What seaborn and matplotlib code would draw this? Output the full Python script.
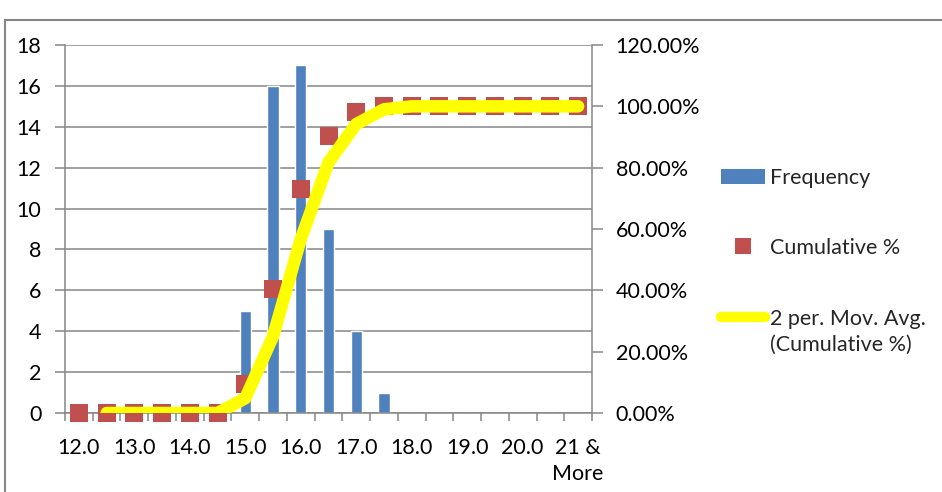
import numpy as np
import pandas as pd
import matplotlib
matplotlib.use("Agg")
import matplotlib.pyplot as plt
import seaborn as sns
from matplotlib.patches import Rectangle, Patch
from matplotlib.lines import Line2D
from matplotlib.ticker import FixedLocator, FuncFormatter

# Histogram bins and counts
bins = ["12.0", "12.5", "13.0", "13.5", "14.0", "14.5", "15.0", "15.5", "16.0",
        "16.5", "17.0", "17.5", "18.0", "18.5", "19.0", "19.5", "20.0", "20.5",
        "21 & More"]
frequency = [0, 0, 0, 0, 0, 0, 5, 16, 17, 9, 4, 1, 0, 0, 0, 0, 0, 0, 0]
tick_labels = ["12.0", "", "13.0", "", "14.0", "", "15.0", "", "16.0", "",
               "17.0", "", "18.0", "", "19.0", "", "20.0", "", "21 &\nMore"]

freq = np.array(frequency, dtype=float)
cumulative = np.cumsum(freq) / freq.sum()
# two-period moving average of the cumulative share (starts at the 2nd bin)
mov_avg = (cumulative[1:] + cumulative[:-1]) / 2

BLUE = "#4F81BD"
RED = "#C0504D"
YELLOW = "#FFFF00"
GRID = "#868686"

sns.set_theme(style="white")
plt.rcParams["font.family"] = ["Lato", "DejaVu Sans"]
FS = 15.5

W, H = 942, 492
fig = plt.figure(figsize=(W / 100, H / 100), dpi=100)
ax = fig.add_axes([65 / W, 1 - 413 / H, (592 - 65) / W, (413 - 45) / H])

df = pd.DataFrame({"bin": bins, "freq": frequency})
sns.barplot(data=df, x="bin", y="freq", ax=ax, color=BLUE, saturation=1,
            width=0.4, order=bins, zorder=2)

n = len(bins)
pos = np.arange(n)
ax.set_xlim(-0.5, n - 0.5)
ax.set_ylim(0, 18)
ax.set_yticks(np.arange(0, 19, 2))
ax.yaxis.grid(True, color=GRID, linewidth=1.1)
ax.set_axisbelow(True)
ax.set_xlabel("")
ax.set_ylabel("")

# category boundaries carry the tick marks, centres carry the labels
ax.xaxis.set_major_locator(FixedLocator(np.arange(-0.5, n, 1.0)))
ax.xaxis.set_major_formatter(FuncFormatter(lambda v, p: ""))
ax.xaxis.set_minor_locator(FixedLocator(pos))
ax.set_xticklabels(tick_labels, minor=True, linespacing=1.35)
ax.tick_params(axis="x", which="major", length=6, width=1.1, color=GRID,
               direction="out", bottom=True)
ax.tick_params(axis="x", which="minor", length=0, pad=18, labelsize=FS,
               labelcolor="black", bottom=True)
ax.tick_params(axis="y", length=7, width=1.1, color=GRID, direction="out",
               pad=10, labelsize=FS, labelcolor="black", left=True)

for side in ["top", "right"]:
    ax.spines[side].set_visible(False)
for side in ["left", "bottom"]:
    ax.spines[side].set_color(GRID)
    ax.spines[side].set_linewidth(1.1)

ax2 = ax.twinx()
ax2.set_ylim(0, 1.2)
ax2.set_yticks(np.arange(0, 1.21, 0.2))
ax2.yaxis.set_major_formatter(FuncFormatter(lambda v, p: f"{v * 100:.2f}%"))
ax2.tick_params(axis="y", length=8, width=1.1, color=GRID, direction="out",
                pad=9, labelsize=FS, labelcolor="black", right=True)
for side in ["top", "left", "bottom"]:
    ax2.spines[side].set_visible(False)
ax2.spines["right"].set_color(GRID)
ax2.spines["right"].set_linewidth(1.1)
ax2.grid(False)

sns.scatterplot(x=pos, y=cumulative, ax=ax2, marker="s", s=150, color=RED,
                linewidth=0, clip_on=False, zorder=3, legend=False)

# moving-average trend line
sns.lineplot(x=pos[1:], y=mov_avg, ax=ax2, sort=False, estimator=None,
             color=YELLOW, linewidth=9, solid_capstyle="round",
             solid_joinstyle="round", zorder=4, legend=False)

leg_kw = dict(frameon=False, fontsize=FS, handlelength=2.05,
              handletextpad=0.22, borderaxespad=0, borderpad=0)
leg1 = fig.legend(handles=[Patch(facecolor=BLUE, edgecolor="none",
                                 label="Frequency")],
                  loc="center left", bbox_to_anchor=(721 / W, 1 - 178 / H),
                  labelspacing=0, **leg_kw)
leg2 = fig.legend(handles=[Line2D([], [], marker="s", linestyle="none",
                                  markersize=11, markerfacecolor=RED,
                                  markeredgewidth=0, label="Cumulative %")],
                  loc="center left", bbox_to_anchor=(721 / W, 1 - 248 / H),
                  labelspacing=0, **leg_kw)
leg3 = fig.legend(handles=[Line2D([], [], color=YELLOW, linewidth=7.5,
                                  solid_capstyle="round",
                                  label="2 per. Mov. Avg."),
                           Line2D([], [], linestyle="none",
                                  label="(Cumulative %)")],
                  loc="center left", bbox_to_anchor=(721 / W, 1 - 332 / H),
                  labelspacing=0.28, **leg_kw)

# outer chart border
fig.add_artist(Rectangle((5 / W, -0.1), 1.1, 1.1 - 20 / H,
                         transform=fig.transFigure, fill=False,
                         edgecolor=GRID, linewidth=1.5))

fig.savefig("out.png", dpi=100)
